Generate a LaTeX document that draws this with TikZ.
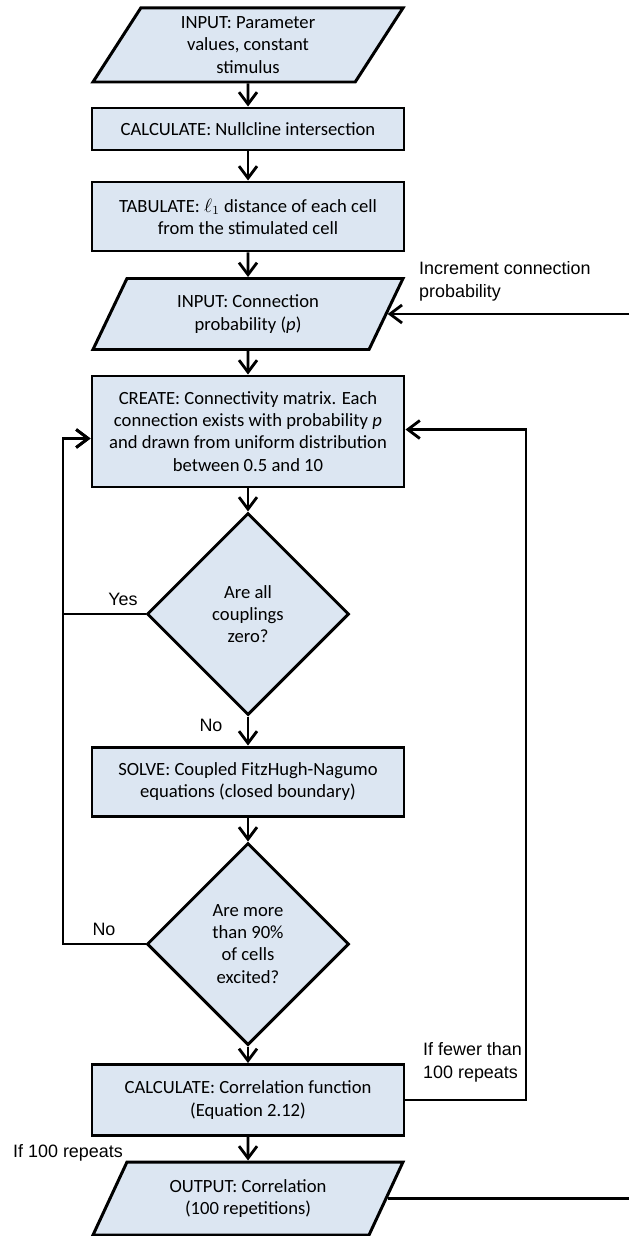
\documentclass[tikz,border=0pt]{standalone}
\usepackage{fontspec}
\setmainfont{Carlito}
\newfontfamily\labelfont{Liberation Sans}
\usetikzlibrary{arrows.meta, positioning, shapes.geometric, calc}
\definecolor{boxfill}{RGB}{220, 230, 242}

\begin{document}
\begin{tikzpicture}[
  base/.style={draw=black, line width=1.7pt, fill=boxfill,
               font=\fontsize{10.6}{12.6}\selectfont, align=center, inner sep=2pt},
  box/.style={base, rectangle, minimum width=6.24cm, minimum height=#1},
  io/.style={base, trapezium, trapezium left angle=53, trapezium right angle=127,
             trapezium stretches body, minimum width=6.2cm, minimum height=#1},
  test/.style={base, diamond, aspect=1, minimum width=4.04cm,
               minimum height=4.04cm, inner sep=0pt},
  arr/.style={-{Straight Barb[length=2.4mm, width=3.6mm]}, line width=1.6pt},
  line/.style={line width=1.6pt},
  lbl/.style={font=\labelfont\fontsize{10.2}{13}\selectfont, align=left}
]
  \useasboundingbox (-4.96,0) rectangle (7.62,-24.72);

  %% Main column
  \node[io=1.48cm]   (params) at (0,-0.90)
    {INPUT: Parameter\\ values, constant\\ stimulus};
  \node[box=0.84cm]  (ncline) at (0,-2.58)
    {CALCULATE: Nullcline intersection};
  \node[box=1.38cm]  (dist)   at (0,-4.33)
    {TABULATE: $\ell_1$ distance of each cell\\ from the stimulated cell};
  \node[io=1.42cm]   (prob)   at (0,-6.28)
    {INPUT: Connection\\ probability (\textit{p})};
  \node[box=2.22cm]  (matrix) at (0,-8.63)
    {CREATE: Connectivity matrix. Each\\ connection exists with probability \textit{p}\\
     and drawn from uniform distribution\\ between 0.5 and 10};
  \node[test]        (zero)   at (0,-12.28)
    {Are all\\ couplings\\ zero?};
  \node[box=1.38cm]  (solve)  at (0,-15.63)
    {SOLVE: Coupled FitzHugh-Nagumo\\ equations (closed boundary)};
  \node[test]        (excite) at (0,-18.88)
    {Are more\\ than 90\%\\ of cells\\ excited?};
  \node[box=1.42cm]  (corr)   at (0,-22.00)
    {CALCULATE: Correlation function\\ (Equation 2.12)};
  \node[io=1.46cm]   (output) at (0,-23.97)
    {OUTPUT: Correlation\\ (100 repetitions)};

  %% Return lines
  \coordinate (lbus)  at (-3.70,0);
  \coordinate (rbus)  at (5.56,0);
  \coordinate (redge) at (7.62,0);

  %% Straight arrows down the column
  \draw[arr] (params) -- (ncline);
  \draw[arr] (ncline) -- (dist);
  \draw[arr] (dist)   -- (prob);
  \draw[arr] (prob)   -- (matrix);
  \draw[arr] (matrix) -- (zero);
  \draw[arr] (zero)   -- (solve);
  \draw[arr] (solve)  -- (excite);
  \draw[arr] (excite) -- (corr);
  \draw[arr] (corr)   -- (output);

  %% Loops back to the matrix
  \draw[arr] (zero.west) -- (zero.west -| lbus) |- ([yshift=-0.14cm]matrix.west);
  \draw[arr] (excite.west) -- (excite.west -| lbus) |- ([yshift=-0.14cm]matrix.west);
  \draw[arr] (corr.east) -- (corr.east -| rbus) |- ([yshift=0.04cm]matrix.east);

  %% In and out at the right edge
  \draw[arr]  (prob.east -| redge) -- (prob.east);
  \draw[line] (output.east) -- (output.east -| redge);

  %% Labels
  \node[lbl] (yes)   at (-2.50,-11.98) {Yes};
  \node[lbl] (no1)   at (-0.74,-14.50) {No};
  \node[lbl] (no2)   at (-2.88,-18.58) {No};
  \node[lbl, anchor=west] (incr)  at (3.30,-5.62)
    {Increment connection\\ probability};
  \node[lbl, anchor=west] (fewer) at (3.38,-21.24)
    {If fewer than\\ 100 repeats};
  \node[lbl] (done)  at (-3.60,-23.06) {If 100 repeats};
\end{tikzpicture}
\end{document}
